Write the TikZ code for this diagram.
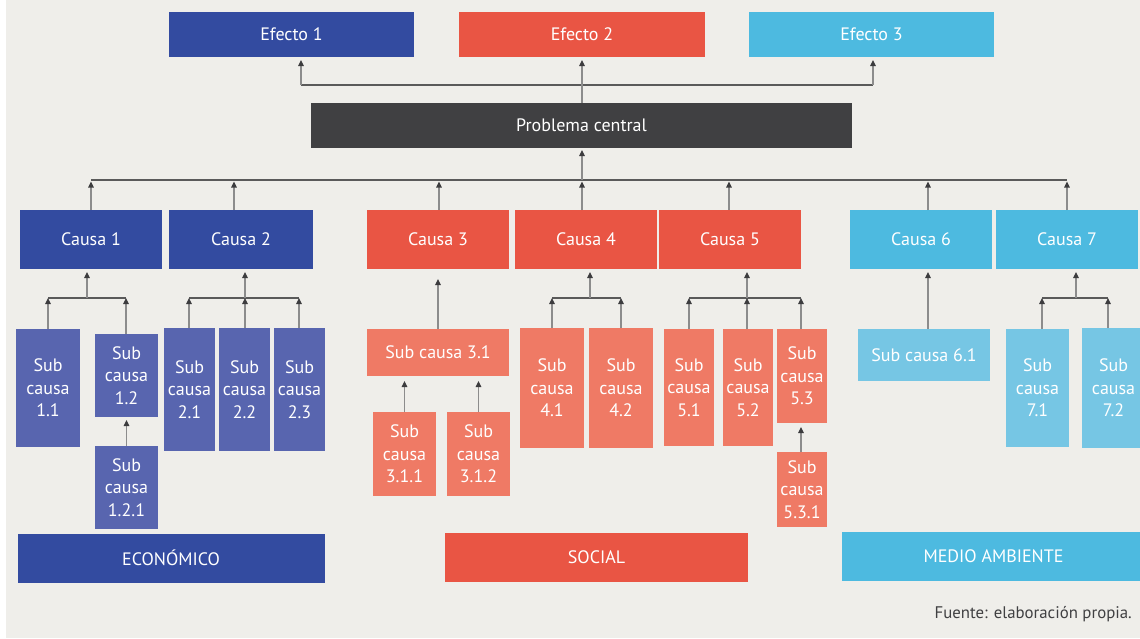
\documentclass[tikz,border=0pt]{standalone}
\usepackage{fontspec}
\setmainfont{PT Sans}
\usetikzlibrary{arrows.meta}

% Define colors
\definecolor{bgcolor}{RGB}{239,238,234}
\definecolor{blueD}{RGB}{51,75,160}   % dark blue
\definecolor{blueL}{RGB}{88,101,175}  % light blue
\definecolor{redD}{RGB}{233,85,68}    % dark red
\definecolor{redL}{RGB}{239,122,101}  % light red
\definecolor{cyanD}{RGB}{77,186,224}  % dark cyan
\definecolor{cyanL}{RGB}{118,198,228} % light cyan
\definecolor{darkbox}{RGB}{64,64,66}
\definecolor{linegrey}{RGB}{140,140,140}
\definecolor{bargrey}{RGB}{90,90,90}
\definecolor{tipgrey}{RGB}{60,60,62}

\tikzset{
  box/.style={inner sep=0pt, outer sep=0pt, text=white, align=center,
    font=\fontsize{18}{22.5}\selectfont},
  link/.style={draw=linegrey, line width=1.2pt,
    -{Triangle[length=6pt,width=5.5pt,color=tipgrey]}},
  bar/.style={draw=bargrey, line width=1.3pt}
}

\begin{document}
\begin{tikzpicture}[x=1pt,y=-1pt]
    % Draw background
    \useasboundingbox (0,0) rectangle (1140,638);
    \fill[bgcolor] (6,0) rectangle (1140,638);

    % Effects and central problem
    \node[box, fill=blueD, minimum width=245pt, minimum height=44.5pt] (e1) at (291.5,34.25) {Efecto 1};
    \node[box, fill=redD, minimum width=246pt, minimum height=44.5pt] (e2) at (582,34.25) {Efecto 2};
    \node[box, fill=cyanD, minimum width=245pt, minimum height=44.5pt] (e3) at (871.5,34.25) {Efecto 3};
    \node[box, fill=darkbox, minimum width=541pt, minimum height=45pt] (pc) at (581.5,125.5) {Problema central};

    % Causes
    \node[box, fill=blueD, minimum width=142pt, minimum height=59pt] (c1) at (91,239.5) {Causa 1};
    \node[box, fill=blueD, minimum width=144pt, minimum height=59pt] (c2) at (241,239.5) {Causa 2};
    \node[box, fill=redD, minimum width=142pt, minimum height=59pt] (c3) at (438,239.5) {Causa 3};
    \node[box, fill=redD, minimum width=142pt, minimum height=59pt] (c4) at (586,239.5) {Causa 4};
    \node[box, fill=redD, minimum width=142pt, minimum height=59pt] (c5) at (730,239.5) {Causa 5};
    \node[box, fill=cyanD, minimum width=142pt, minimum height=59pt] (c6) at (921,239.5) {Causa 6};
    \node[box, fill=cyanD, minimum width=142pt, minimum height=59pt] (c7) at (1067,239.5) {Causa 7};

    % Sub causes
    \node[box, fill=blueL, minimum width=64pt, minimum height=118pt] (s11) at (48,388) {Sub\\causa\\1.1};
    \node[box, fill=blueL, minimum width=63pt, minimum height=83pt] (s12) at (126.5,375.5) {Sub\\causa\\1.2};
    \node[box, fill=blueL, minimum width=63pt, minimum height=83pt] (s121) at (126.5,487.5) {Sub\\causa\\1.2.1};
    \node[box, fill=blueL, minimum width=51pt, minimum height=123pt] (s21) at (189.5,389.5) {Sub\\causa\\2.1};
    \node[box, fill=blueL, minimum width=51pt, minimum height=123pt] (s22) at (244.5,389.5) {Sub\\causa\\2.2};
    \node[box, fill=blueL, minimum width=51pt, minimum height=123pt] (s23) at (299.5,389.5) {Sub\\causa\\2.3};
    \node[box, fill=redL, minimum width=142pt, minimum height=47pt] (s31) at (438,352.5) {Sub causa 3.1};
    \node[box, fill=redL, minimum width=63pt, minimum height=84pt] (s311) at (404.5,454) {Sub\\causa\\3.1.1};
    \node[box, fill=redL, minimum width=63pt, minimum height=84pt] (s312) at (478.5,454) {Sub\\causa\\3.1.2};
    \node[box, fill=redL, minimum width=64pt, minimum height=120pt] (s41) at (552,388) {Sub\\causa\\4.1};
    \node[box, fill=redL, minimum width=64pt, minimum height=120pt] (s42) at (621,388) {Sub\\causa\\4.2};
    \node[box, fill=redL, minimum width=50pt, minimum height=117pt] (s51) at (689,387.5) {Sub\\causa\\5.1};
    \node[box, fill=redL, minimum width=50pt, minimum height=117pt] (s52) at (748,387.5) {Sub\\causa\\5.2};
    \node[box, fill=redL, minimum width=50pt, minimum height=94pt] (s53) at (802,376) {Sub\\causa\\5.3};
    \node[box, fill=redL, minimum width=50pt, minimum height=75pt] (s531) at (802,489.5) {Sub\\causa\\5.3.1};
    \node[box, fill=cyanL, minimum width=132pt, minimum height=52pt] (s61) at (924,355) {Sub causa 6.1};
    \node[box, fill=cyanL, minimum width=63pt, minimum height=118pt] (s71) at (1037.5,388) {Sub\\causa\\7.1};
    \node[box, fill=cyanL, minimum width=63pt, minimum height=120pt] (s72) at (1113.5,388) {Sub\\causa\\7.2};

    % Categories
    \node[box, fill=blueD, minimum width=307pt, minimum height=49.5pt] (eco) at (171,558.25) {ECONÓMICO};
    \node[box, fill=redD, minimum width=303pt, minimum height=49pt] (soc) at (596.5,557.5) {SOCIAL};
    \node[box, fill=cyanD, minimum width=303pt, minimum height=49pt] (med) at (993.5,556.5) {MEDIO AMBIENTE};
    \node[anchor=east, inner sep=0pt, text=darkbox, font=\fontsize{16.8}{20}\selectfont] (src) at (1132,614) {Fuente: elaboración propia.};

    % Problem to effects
    \coordinate (t1) at (301,85);
    \coordinate (t2) at (582,85);
    \coordinate (t3) at (873,85);
    \draw[bar] (t1) -- (t3);
    \draw[link, shorten >=3.5pt] (t1) -- (e1.south -| t1);
    \draw[link, shorten >=3.5pt] (pc.north -| t2) -- (e2.south -| t2);
    \draw[link, shorten >=3.5pt] (t3) -- (e3.south -| t3);

    % Causes to problem
    \coordinate (m1) at (91,180);
    \coordinate (m2) at (234,180);
    \coordinate (m3) at (439,180);
    \coordinate (m4) at (582,180);
    \coordinate (m5) at (729,180);
    \coordinate (m6) at (928,180);
    \coordinate (m7) at (1067,180);
    \draw[bar] (m1) -- (m7);
    \draw[link, shorten >=2pt] (m4) -- (pc.south -| m4);
    \draw[link, shorten >=1.5pt] (c1.north -| m1) -- (m1);
    \draw[link, shorten >=1.5pt] (c2.north -| m2) -- (m2);
    \draw[link, shorten >=1.5pt] (c3.north -| m3) -- (m3);
    \draw[link, shorten >=1.5pt] (c4.north -| m4) -- (m4);
    \draw[link, shorten >=1.5pt] (c5.north -| m5) -- (m5);
    \draw[link, shorten >=1.5pt] (c6.north -| m6) -- (m6);
    \draw[link, shorten >=1.5pt] (c7.north -| m7) -- (m7);

    % Sub causes to causes
    \coordinate (k1) at (87,298);
    \coordinate (k11) at (48,298);
    \coordinate (k12) at (126,298);
    \draw[bar] (k11) -- (k12);
    \draw[link, shorten >=3pt] (k1) -- (c1.south -| k1);
    \draw[link] (s11.north -| k11) -- (k11);
    \draw[link] (s12.north -| k12) -- (k12);
    \draw[link, shorten >=3pt] (s121.north) -- (s12.south);

    \coordinate (k21) at (189,298);
    \coordinate (k22) at (245,298);
    \coordinate (k23) at (299,298);
    \draw[bar] (k21) -- (k23);
    \draw[link, shorten >=3pt] (k22) -- (c2.south -| k22);
    \draw[link] (s21.north -| k21) -- (k21);
    \draw[link] (s22.north -| k22) -- (k22);
    \draw[link] (s23.north -| k23) -- (k23);

    \draw[link, shorten >=10pt] (s31.north) -- (c3.south);
    \draw[link, shorten >=5pt] (s311.north) -- (s31.south -| s311.north);
    \draw[link, shorten >=5pt] (s312.north) -- (s31.south -| s312.north);

    \coordinate (k4) at (590,298);
    \coordinate (k41) at (552,298);
    \coordinate (k42) at (621,298);
    \draw[bar] (k41) -- (k42);
    \draw[link, shorten >=3pt] (k4) -- (c4.south -| k4);
    \draw[link] (s41.north -| k41) -- (k41);
    \draw[link] (s42.north -| k42) -- (k42);

    \coordinate (k51) at (689,298);
    \coordinate (k52) at (747,298);
    \coordinate (k53) at (801,298);
    \draw[bar] (k51) -- (k53);
    \draw[link, shorten >=3pt] (k52) -- (c5.south -| k52);
    \draw[link] (s51.north -| k51) -- (k51);
    \draw[link] (s52.north -| k52) -- (k52);
    \draw[link] (s53.north -| k53) -- (k53);
    \draw[link, shorten >=4pt] (s531.north -| k53) -- (s53.south -| k53);

    \coordinate (k6) at (928,298);
    \draw[link, shorten >=3pt] (s61.north -| k6) -- (c6.south -| k6);

    \coordinate (k7) at (1076,298);
    \coordinate (k71) at (1042,298);
    \coordinate (k72) at (1108,298);
    \draw[bar] (k71) -- (k72);
    \draw[link, shorten >=3pt] (k7) -- (c7.south -| k7);
    \draw[link] (s71.north -| k71) -- (k71);
    \draw[link] (s72.north -| k72) -- (k72);
\end{tikzpicture}
\end{document}
